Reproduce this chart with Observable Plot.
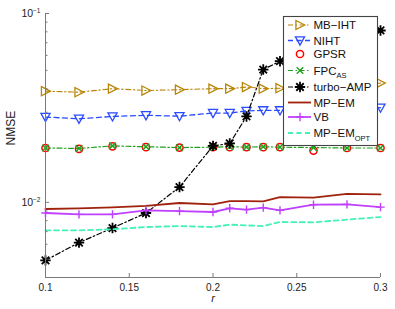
<!DOCTYPE html>
<html><head><meta charset="utf-8">
<script src="https://cdn.jsdelivr.net/npm/d3@7"></script>
<script src="https://cdn.jsdelivr.net/npm/@observablehq/plot@0.6"></script>
<style>body{margin:0;background:#fff}</style>
</head><body><div id="chart"></div>
<script>
// ---- data ----
const r = [0.1, 0.12, 0.14, 0.16, 0.18, 0.2, 0.21, 0.22, 0.23, 0.24, 0.26, 0.28, 0.3];
const mbiht = [0.0388, 0.0383, 0.0400, 0.0391, 0.0395, 0.0400, 0.0400, 0.0408, 0.0400, 0.0402, 0.0410, 0.0415, 0.0428];
const niht = [0.0283, 0.0277, 0.0285, 0.0289, 0.0286, 0.0297, 0.0297, 0.0305, 0.0307, 0.0307, 0.0311, 0.0314, 0.0317];
const gpsr = [0.0194, 0.0192, 0.0198, 0.0196, 0.0195, 0.0196, 0.0196, 0.0196, 0.0196, 0.0196, 0.0188, 0.0194, 0.0194];
const fpcas = [0.0194, 0.0193, 0.0199, 0.0197, 0.0195, 0.0196, 0.0197, 0.0196, 0.0197, 0.0196, 0.0195, 0.0194, 0.0194];
const turbo = [0.00493, 0.00612, 0.00731, 0.00878, 0.01205, 0.0199, 0.0205, 0.0285, 0.0505, 0.0559, 0.0670, 0.0750, 0.0813];
const mpem = [0.00922, 0.00930, 0.00941, 0.00958, 0.00992, 0.00976, 0.01016, 0.01015, 0.01012, 0.01067, 0.01059, 0.01108, 0.01102];
const vb = [0.00878, 0.00864, 0.00864, 0.00907, 0.00899, 0.00889, 0.00930, 0.00915, 0.00938, 0.00907, 0.00972, 0.00976, 0.00944];
const mpemopt = [0.00711, 0.00711, 0.00720, 0.00740, 0.00749, 0.00740, 0.00762, 0.00755, 0.00749, 0.00787, 0.00784, 0.00810, 0.00836];
const xTicks = [0.1, 0.15, 0.2, 0.25, 0.3];
const yMajor = [0.01, 0.1];
const yMinor = [0.004, 0.005, 0.006, 0.007, 0.008, 0.009, 0.02, 0.03, 0.04, 0.05, 0.06, 0.07, 0.08, 0.09];

// ---- symbols ----
const rad = s => Math.sqrt(s / Math.PI);
const triRight = {draw(c, size) {const s = rad(size); c.moveTo(s, 0); c.lineTo(-s * 0.85, -s * 0.95); c.lineTo(-s * 0.85, s * 0.95); c.closePath();}};
const triDown = {draw(c, size) {const s = rad(size); c.moveTo(-s * 0.95, -s * 0.75); c.lineTo(s * 0.95, -s * 0.75); c.lineTo(0, s * 0.95); c.closePath();}};
const circ = {draw(c, size) {const s = rad(size); c.moveTo(s, 0); c.arc(0, 0, s, 0, 2 * Math.PI);}};
const times = {draw(c, size) {const s = rad(size) * 0.72; c.moveTo(-s, -s); c.lineTo(s, s); c.moveTo(s, -s); c.lineTo(-s, s);}};
const plus = {draw(c, size) {const s = rad(size); c.moveTo(-s, 0); c.lineTo(s, 0); c.moveTo(0, -s); c.lineTo(0, s);}};
const star = {draw(c, size) {const s = rad(size), t = s * 0.72; c.moveTo(-s, 0); c.lineTo(s, 0); c.moveTo(0, -s); c.lineTo(0, s); c.moveTo(-t, -t); c.lineTo(t, t); c.moveTo(t, -t); c.lineTo(-t, t);}};

const dashDot = "5,2.5,1.5,2.5";
const series = [
  {name: "MB−IHT", v: mbiht, color: "#b8860b", line: true, dash: dashDot, lw: 1.1, sym: triRight, rr: 4.8, sw: 1.3},
  {name: "NIHT", v: niht, color: "#2b4bff", line: true, dash: "5,3.5", lw: 1.3, sym: triDown, rr: 4.8, sw: 1.3},
  {name: "GPSR", v: gpsr, color: "#ff0000", line: false, sym: circ, rr: 3.6, sw: 1.5},
  {name: "FPC", sub: "AS", v: fpcas, color: "#1fa01f", line: true, dash: dashDot, lw: 1.2, sym: times, rr: 4.6, sw: 1.4},
  {name: "turbo−AMP", v: turbo, color: "#000000", line: true, dash: dashDot, lw: 1.2, sym: star, rr: 5.2, sw: 1.8},
  {name: "MP−EM", v: mpem, color: "#a0220c", line: true, dash: null, lw: 1.8},
  {name: "VB", v: vb, color: "#c040ff", line: true, dash: null, lw: 1.8, sym: plus, rr: 4.2, sw: 1.4},
  {name: "MP−EM", sub: "OPT", v: mpemopt, color: "#45f2b4", line: true, dash: "5,3.5", lw: 1.8}
];

const marks = [];
for (const s of series) {
  const rows = r.map((x, i) => ({r: x, v: s.v[i]}));
  if (s.line) marks.push(Plot.line(rows, {x: "r", y: "v", stroke: s.color, strokeWidth: s.lw, strokeDasharray: s.dash || undefined}));
  if (s.sym) marks.push(Plot.dot(rows, {x: "r", y: "v", symbol: s.sym, r: s.rr, stroke: s.color, strokeWidth: s.sw, fill: "none"}));
}

const axisColor = "#7a7a7a";
const chart = Plot.plot({
  width: 395, height: 309,
  marginLeft: 45, marginRight: 15, marginTop: 13, marginBottom: 32,
  style: {fontFamily: "Liberation Sans, Arial, sans-serif", fontSize: "10px", background: "white", color: "#222"},
  x: {domain: [0.1, 0.3]},
  y: {type: "log", domain: [0.004, 0.1]},
  marks: [
    ...marks,
    Plot.ruleX([0.1], {stroke: axisColor}),
    Plot.ruleY([0.004], {stroke: axisColor}),
    Plot.axisX({ticks: xTicks, tickSize: -4, stroke: axisColor, tickFormat: () => "", label: null}),
    Plot.axisX({ticks: xTicks, tickSize: 0, tickPadding: 6, tickFormat: d => String(+d.toFixed(2)), label: null, fill: "#222"}),
    Plot.axisY({ticks: yMajor, tickSize: -4, stroke: axisColor, tickFormat: () => "", label: null}),
    Plot.axisY({ticks: yMinor, tickSize: -2.5, stroke: axisColor, tickFormat: () => "", label: null}),
    Plot.axisY({ticks: yMajor, tickSize: 0, tickPadding: 5, tickFormat: d => "E" + Math.round(Math.log10(d)), label: null, fill: "#222", fontSize: 10.5}),
    Plot.text(["NMSE"], {frameAnchor: "left", dx: -34, rotate: -90, fontSize: 12, fill: "#222"}),
    Plot.text(["r"], {frameAnchor: "bottom", lineAnchor: "top", dy: 17, fontStyle: "italic", fontSize: 11, fill: "#222"})
  ]
});
document.getElementById("chart").appendChild(chart);

// superscript exponents on y tick labels
d3.select(chart).selectAll('[aria-label="y-axis tick label"] text').each(function() {
  const t = this.textContent;
  if (!t.startsWith("E")) return;
  const e = t.slice(1).replace("-", "−");
  const sel = d3.select(this);
  sel.text("");
  sel.append("tspan").text("10");
  sel.append("tspan").attr("dy", "-0.6em").attr("font-size", "6.5px").text(e);
});

// legend
const svg = d3.select(chart);
const lg = svg.append("g").attr("font-family", "Liberation Sans, Arial, sans-serif").attr("font-size", "11.5px").attr("text-anchor", "start");
lg.append("rect").attr("x", 283.5).attr("y", 16.5).attr("width", 94).attr("height", 129)
  .attr("fill", "#ffffff").attr("stroke", "#444").attr("stroke-width", 1.1);
const ly = [25, 40.5, 54, 70.5, 87, 102.5, 117, 133];
series.forEach((s, i) => {
  const y = ly[i];
  if (s.line) lg.append("line").attr("x1", 288).attr("x2", 311).attr("y1", y).attr("y2", y)
    .attr("stroke", s.color).attr("stroke-width", s.lw).attr("stroke-dasharray", s.dash || null);
  if (s.sym) {
    const p = d3.path(); s.sym.draw(p, Math.PI * s.rr * s.rr);
    lg.append("path").attr("d", p.toString()).attr("transform", `translate(300,${y})`)
      .attr("fill", "none").attr("stroke", s.color).attr("stroke-width", s.sw);
  }
  const tx = lg.append("text").attr("x", 313.5).attr("y", y).attr("dy", "0.36em").attr("text-anchor", "start").attr("fill", "#111").text(s.name);
  if (s.sub) tx.append("tspan").attr("dy", "0.45em").attr("font-size", "7.5px").text(s.sub);
});
</script></body></html>
